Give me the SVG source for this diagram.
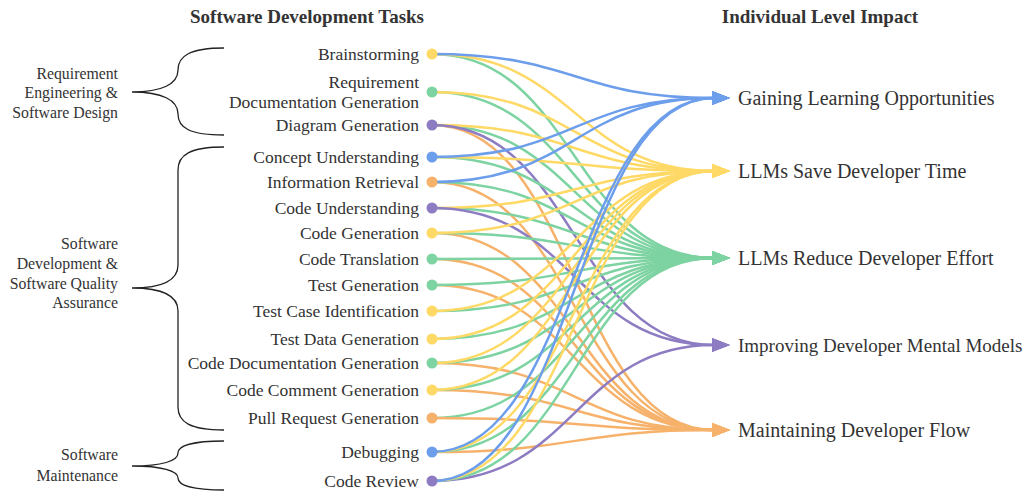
<svg xmlns="http://www.w3.org/2000/svg" width="1031" height="494" viewBox="0 0 1031 494">
<style>
text{font-family:"Liberation Serif","Times New Roman",serif;fill:#333}
.h{font-size:19px;font-weight:bold;text-anchor:middle}
.t{font-size:17.5px;text-anchor:end}
.g{font-size:15.8px;text-anchor:end}
.r{font-size:20px}
.brace{fill:none;stroke:#222;stroke-width:1.3}
.l{fill:none;stroke-width:2.5}
.lb{stroke:#6d9eeb}.ly{stroke:#ffd966}.lg{stroke:#7dd3a1}.lp{stroke:#8e7cc3}.lo{stroke:#f6b26b}
.cb{fill:#6d9eeb}.cy{fill:#ffd966}.cg{fill:#7dd3a1}.cp{fill:#8e7cc3}.co{fill:#f6b26b}
</style>
<defs>
<marker id="mb" markerUnits="userSpaceOnUse" markerWidth="18" markerHeight="14" viewBox="0 0 18 14" refX="2" refY="7" orient="auto"><path d="M0,0L18,7L0,14z" fill="#6d9eeb"/></marker>
<marker id="my" markerUnits="userSpaceOnUse" markerWidth="18" markerHeight="14" viewBox="0 0 18 14" refX="2" refY="7" orient="auto"><path d="M0,0L18,7L0,14z" fill="#ffd966"/></marker>
<marker id="mg" markerUnits="userSpaceOnUse" markerWidth="18" markerHeight="14" viewBox="0 0 18 14" refX="2" refY="7" orient="auto"><path d="M0,0L18,7L0,14z" fill="#7dd3a1"/></marker>
<marker id="mp" markerUnits="userSpaceOnUse" markerWidth="18" markerHeight="14" viewBox="0 0 18 14" refX="2" refY="7" orient="auto"><path d="M0,0L18,7L0,14z" fill="#8e7cc3"/></marker>
<marker id="mo" markerUnits="userSpaceOnUse" markerWidth="18" markerHeight="14" viewBox="0 0 18 14" refX="2" refY="7" orient="auto"><path d="M0,0L18,7L0,14z" fill="#f6b26b"/></marker>
</defs>

<g id="headers">
<text class="h" x="307" y="23">Software Development Tasks</text>
<text class="h" x="820" y="23">Individual Level Impact</text>
</g>

<g id="groups">
<g id="group-req">
<path class="brace" d="M224,48 C190,48 178,56 178,70 C178,84 162,92 132,92 C162,92 178,100 178,114 C178,128 190,135 224,135"/>
<text class="g" x="118" y="79">Requirement</text>
<text class="g" x="118" y="98">Engineering &amp;</text>
<text class="g" x="118" y="118">Software Design</text>
</g>
<g id="group-dev">
<path class="brace" d="M224,147 C190,147 178,155 178,170 L178,265 C178,280 162,288 132,288 C162,288 178,296 178,311 L178,407 C178,422 190,430 224,430"/>
<text class="g" x="118" y="249">Software</text>
<text class="g" x="118" y="269">Development &amp;</text>
<text class="g" x="118" y="289">Software Quality</text>
<text class="g" x="118" y="308">Assurance</text>
</g>
<g id="group-maint">
<path class="brace" d="M224,441 C192,441 178,446 178,453 C178,461 162,466 132,466 C162,466 178,471 178,478 C178,485 192,490 224,490"/>
<text class="g" x="118" y="460">Software</text>
<text class="g" x="118" y="481">Maintenance</text>
</g>
</g>

<g id="connectors">
<path class="l lg" marker-end="url(#mg)" d="M432,54 C575,54 575,258 714,258"/>
<path class="l ly" marker-end="url(#my)" d="M432,54 C575,54 575,171 714,171"/>
<path class="l lb" marker-end="url(#mb)" d="M432,54 C575,54 575,98 714,98"/>
<path class="l lg" marker-end="url(#mg)" d="M432,92 C575,92 575,258 714,258"/>
<path class="l ly" marker-end="url(#my)" d="M432,92 C575,92 575,171 714,171"/>
<path class="l lo" marker-end="url(#mo)" d="M432,125 C575,125 575,430 714,430"/>
<path class="l lg" marker-end="url(#mg)" d="M432,125 C575,125 575,258 714,258"/>
<path class="l ly" marker-end="url(#my)" d="M432,125 C575,125 575,171 714,171"/>
<path class="l lp" marker-end="url(#mp)" d="M432,125 C575,125 575,345 714,345"/>
<path class="l lg" marker-end="url(#mg)" d="M432,157 C575,157 575,258 714,258"/>
<path class="l ly" marker-end="url(#my)" d="M432,157 C575,157 575,171 714,171"/>
<path class="l lb" marker-end="url(#mb)" d="M432,157 C575,157 575,98 714,98"/>
<path class="l lo" marker-end="url(#mo)" d="M432,182 C575,182 575,430 714,430"/>
<path class="l lg" marker-end="url(#mg)" d="M432,182 C575,182 575,258 714,258"/>
<path class="l lb" marker-end="url(#mb)" d="M432,182 C575,182 575,98 714,98"/>
<path class="l lg" marker-end="url(#mg)" d="M432,208 C575,208 575,258 714,258"/>
<path class="l ly" marker-end="url(#my)" d="M432,208 C575,208 575,171 714,171"/>
<path class="l lp" marker-end="url(#mp)" d="M432,208 C575,208 575,345 714,345"/>
<path class="l lo" marker-end="url(#mo)" d="M432,233 C575,233 575,430 714,430"/>
<path class="l lg" marker-end="url(#mg)" d="M432,233 C575,233 575,258 714,258"/>
<path class="l ly" marker-end="url(#my)" d="M432,233 C575,233 575,171 714,171"/>
<path class="l lo" marker-end="url(#mo)" d="M432,259 C575,259 575,430 714,430"/>
<path class="l lg" marker-end="url(#mg)" d="M432,259 C575,259 575,258 714,258"/>
<path class="l lo" marker-end="url(#mo)" d="M432,285 C575,285 575,430 714,430"/>
<path class="l lg" marker-end="url(#mg)" d="M432,285 C575,285 575,258 714,258"/>
<path class="l lg" marker-end="url(#mg)" d="M432,311 C575,311 575,258 714,258"/>
<path class="l ly" marker-end="url(#my)" d="M432,311 C575,311 575,171 714,171"/>
<path class="l lg" marker-end="url(#mg)" d="M432,339 C575,339 575,258 714,258"/>
<path class="l ly" marker-end="url(#my)" d="M432,339 C575,339 575,171 714,171"/>
<path class="l lo" marker-end="url(#mo)" d="M432,363 C575,363 575,430 714,430"/>
<path class="l lg" marker-end="url(#mg)" d="M432,363 C575,363 575,258 714,258"/>
<path class="l ly" marker-end="url(#my)" d="M432,363 C575,363 575,171 714,171"/>
<path class="l lo" marker-end="url(#mo)" d="M432,390 C575,390 575,430 714,430"/>
<path class="l lg" marker-end="url(#mg)" d="M432,390 C575,390 575,258 714,258"/>
<path class="l ly" marker-end="url(#my)" d="M432,390 C575,390 575,171 714,171"/>
<path class="l lg" marker-end="url(#mg)" d="M432,418 C575,418 575,258 714,258"/>
<path class="l lo" marker-end="url(#mo)" d="M432,418 C575,418 575,430 714,430"/>
<path class="l lo" marker-end="url(#mo)" d="M432,452 C575,452 575,430 714,430"/>
<path class="l lg" marker-end="url(#mg)" d="M432,452 C575,452 575,258 714,258"/>
<path class="l ly" marker-end="url(#my)" d="M432,452 C575,452 575,171 714,171"/>
<path class="l lb" marker-end="url(#mb)" d="M432,452 C575,452 575,98 714,98"/>
<path class="l lp" marker-end="url(#mp)" d="M432,481 C575,481 575,345 714,345"/>
<path class="l lg" marker-end="url(#mg)" d="M432,481 C575,481 575,258 714,258"/>
<path class="l ly" marker-end="url(#my)" d="M432,481 C575,481 575,171 714,171"/>
<path class="l lb" marker-end="url(#mb)" d="M432,481 C575,481 575,98 714,98"/>
</g>

<g id="tasks">
<g id="t-brainstorming"><text class="t" x="419" y="60">Brainstorming</text><circle class="cy" cx="432" cy="54" r="5.5"/></g>
<g id="t-reqdoc"><text class="t" x="419" y="88">Requirement</text><text class="t" x="419" y="108">Documentation Generation</text><circle class="cg" cx="432" cy="92" r="5.5"/></g>
<g id="t-diagram"><text class="t" x="419" y="131">Diagram Generation</text><circle class="cp" cx="432" cy="125" r="5.5"/></g>
<g id="t-concept"><text class="t" x="419" y="163">Concept Understanding</text><circle class="cb" cx="432" cy="157" r="5.5"/></g>
<g id="t-info"><text class="t" x="419" y="188">Information Retrieval</text><circle class="co" cx="432" cy="182" r="5.5"/></g>
<g id="t-codeund"><text class="t" x="419" y="214">Code Understanding</text><circle class="cp" cx="432" cy="208" r="5.5"/></g>
<g id="t-codegen"><text class="t" x="419" y="239">Code Generation</text><circle class="cy" cx="432" cy="233" r="5.5"/></g>
<g id="t-codetrans"><text class="t" x="419" y="265">Code Translation</text><circle class="cg" cx="432" cy="259" r="5.5"/></g>
<g id="t-testgen"><text class="t" x="419" y="291">Test Generation</text><circle class="cg" cx="432" cy="285" r="5.5"/></g>
<g id="t-testcase"><text class="t" x="419" y="317">Test Case Identification</text><circle class="cy" cx="432" cy="311" r="5.5"/></g>
<g id="t-testdata"><text class="t" x="419" y="345">Test Data Generation</text><circle class="cy" cx="432" cy="339" r="5.5"/></g>
<g id="t-codedoc"><text class="t" x="419" y="369">Code Documentation Generation</text><circle class="cg" cx="432" cy="363" r="5.5"/></g>
<g id="t-comment"><text class="t" x="419" y="396">Code Comment Generation</text><circle class="cy" cx="432" cy="390" r="5.5"/></g>
<g id="t-pr"><text class="t" x="419" y="424">Pull Request Generation</text><circle class="co" cx="432" cy="418" r="5.5"/></g>
<g id="t-debug"><text class="t" x="419" y="458">Debugging</text><circle class="cb" cx="432" cy="452" r="5.5"/></g>
<g id="t-review"><text class="t" x="419" y="487">Code Review</text><circle class="cp" cx="432" cy="481" r="5.5"/></g>
</g>

<g id="impacts">
<g id="i-learning"><text class="r" x="738" y="105">Gaining Learning Opportunities</text></g>
<g id="i-time"><text class="r" x="738" y="178">LLMs Save Developer Time</text></g>
<g id="i-effort"><text class="r" x="738" y="265">LLMs Reduce Developer Effort</text></g>
<g id="i-mental"><text class="r" x="738" y="352" style="font-size:19px">Improving Developer Mental Models</text></g>
<g id="i-flow"><text class="r" x="738" y="437">Maintaining Developer Flow</text></g>
</g>
</svg>
